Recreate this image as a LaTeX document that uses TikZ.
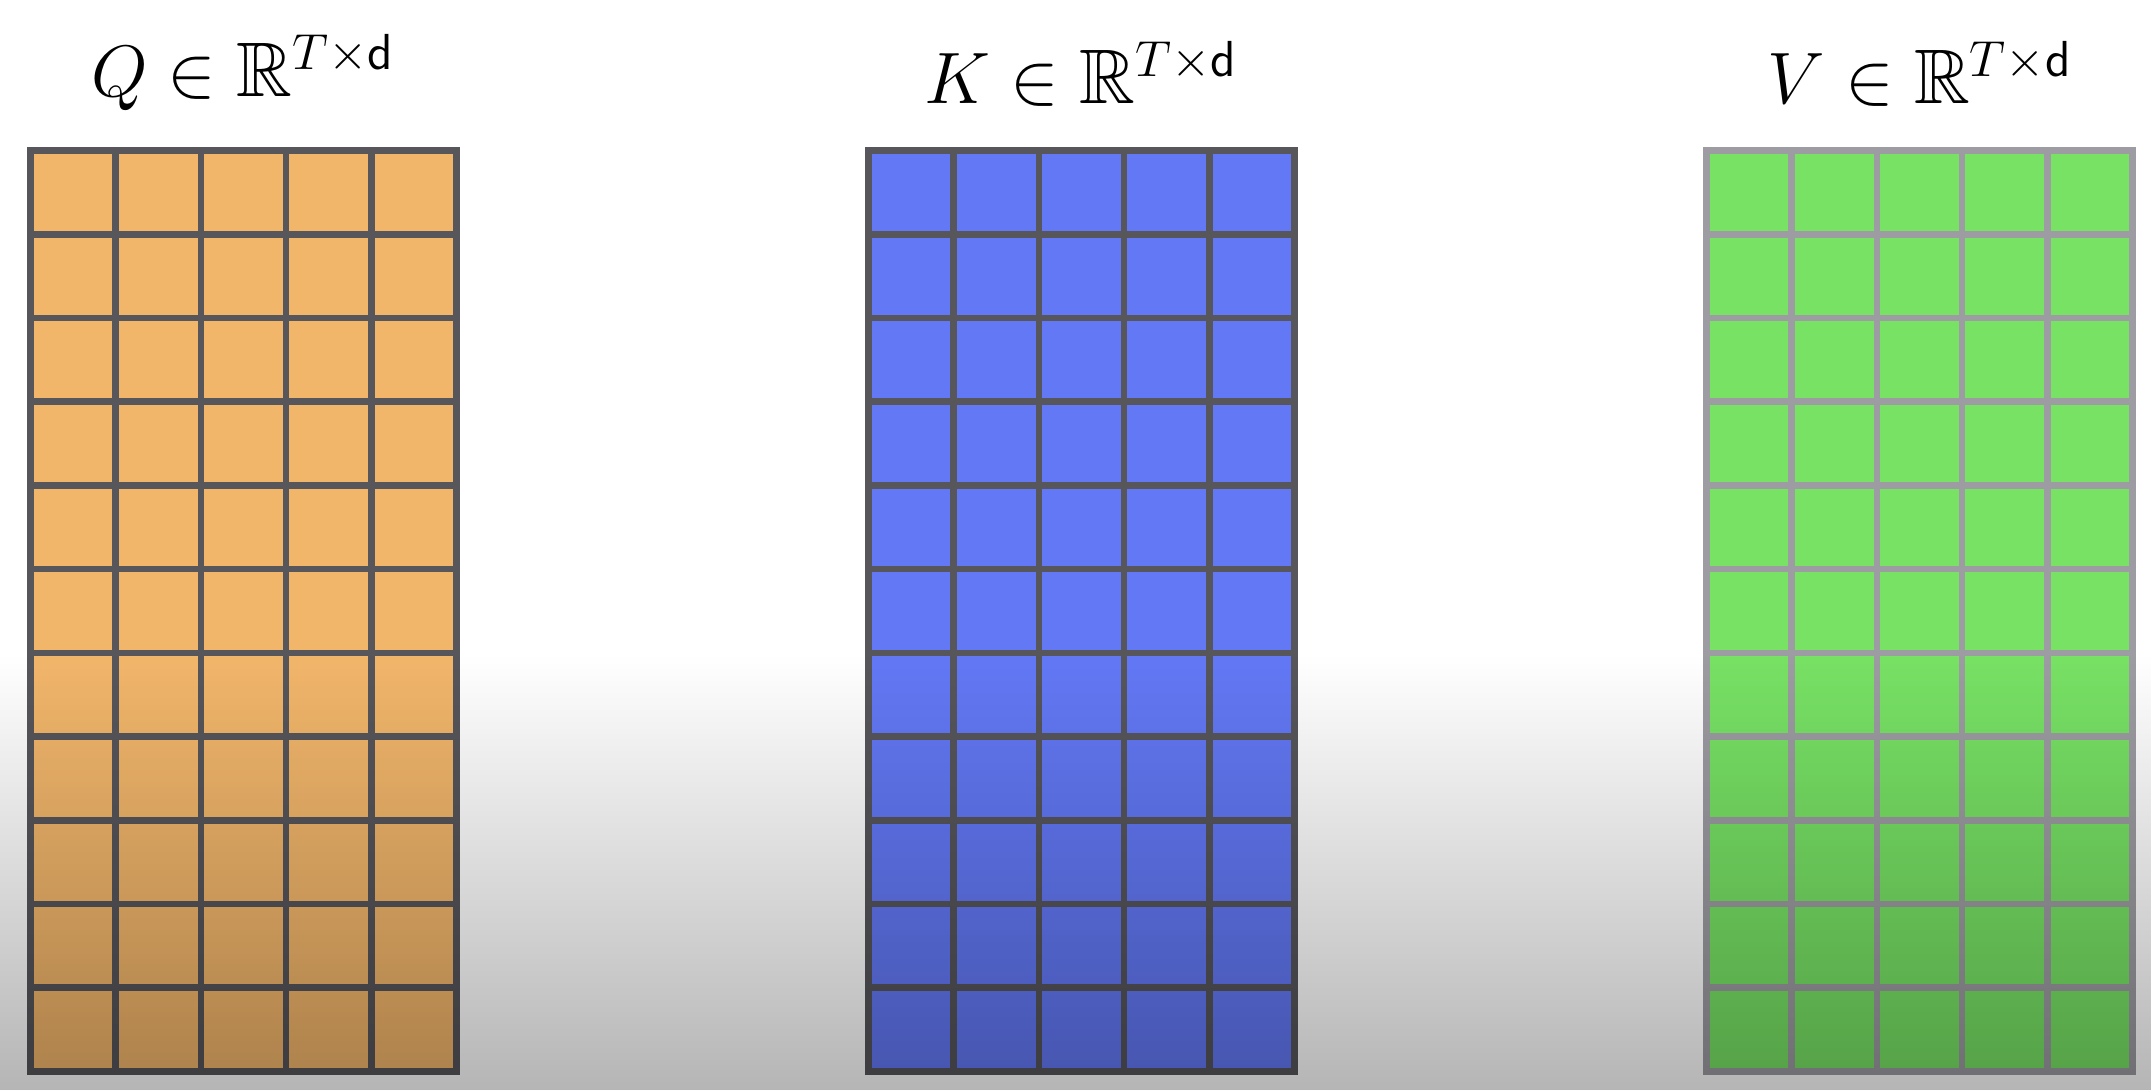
\documentclass[tikz,border=0pt]{standalone}
\usepackage{amsmath,amssymb}
\usetikzlibrary{fadings}
\definecolor{qfill}{HTML}{F2B66B}
\definecolor{kfill}{HTML}{6378F5}
\definecolor{vfill}{HTML}{78E265}
\definecolor{rule}{HTML}{56565B}
\definecolor{rulelight}{HTML}{9C9CA2}
\tikzfading[name=darkdown,top color=transparent!100,bottom color=transparent!0]

\begin{document}
\begin{tikzpicture}[x=0.1mm,y=-0.1mm,cell/.style={draw=rule,line width=1.9pt,minimum width=8.52mm,minimum height=8.373mm,inner sep=0pt,outer sep=0pt},lbl/.style={font=\fontsize{22}{26}\selectfont,anchor=base,inner sep=0pt}]
\fill[white] (0,0) rectangle (2152,1090);
\useasboundingbox (0,0) rectangle (2152,1090);
% the three T x d matrices, 11 rows of 5 cells
\foreach \m/\x/\col/\ln in {Q/30.5/qfill/rule,K/868.5/kfill/rule,V/1706.5/vfill/rulelight}{
  \foreach \r in {1,...,11}{
    \foreach \c in {1,...,5}{
      \node[cell,fill=\col,draw=\ln] (\m-\r-\c) at ({\x+(\c-0.5)*85.2},{150.5+(\r-0.5)*83.73}) {};
    }
  }
}
\node[lbl] (Qlab) at (243,96) {$Q\in\mathbb{R}^{T\times\mathsf{d}}$};
\node[lbl] (Klab) at (1081,103) {$K\in\mathbb{R}^{T\times\mathsf{d}}$};
\node[lbl] (Vlab) at (1920,103) {$V\in\mathbb{R}^{T\times\mathsf{d}}$};
% shadow towards the bottom
\fill[black,fill opacity=0.29,path fading=darkdown] (0,655) rectangle (2152,1090);
\end{tikzpicture}
\end{document}
